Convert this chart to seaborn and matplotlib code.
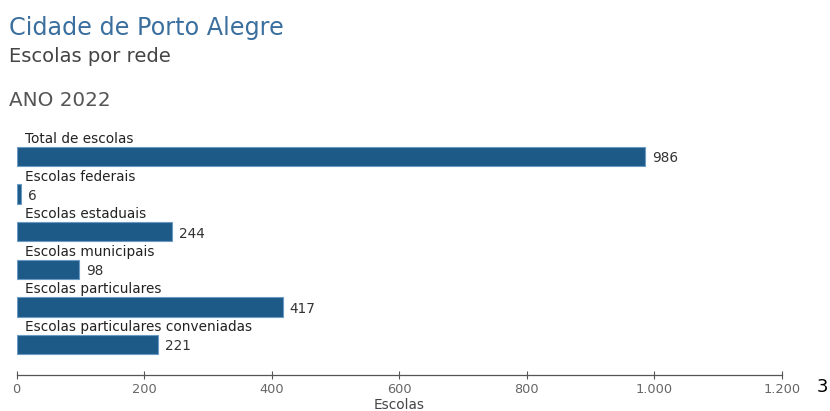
import matplotlib
matplotlib.use("Agg")
import matplotlib.pyplot as plt
import seaborn as sns
import pandas as pd
from matplotlib.ticker import FuncFormatter

categories = ["Total de escolas", "Escolas federais", "Escolas estaduais",
              "Escolas municipais", "Escolas particulares",
              "Escolas particulares conveniadas"]
values = [986, 6, 244, 98, 417, 221]
x_ticks = [0, 200, 400, 600, 800, 1000, 1200]

df = pd.DataFrame({"cat": categories, "val": values})

sns.set_theme(style="white")
plt.rcParams['font.family'] = ['DejaVu Sans']

W, H = 830, 411
fig = plt.figure(figsize=(W / 100, H / 100), dpi=100)
# axes: x 17..782 px, y 130..375 px
left_px, right_px = 16.7, 781.7
top_px, bot_px = 130, 375
ax = fig.add_axes([left_px / W, 1 - bot_px / H, (right_px - left_px) / W, (bot_px - top_px) / H])

bar_color = "#1d5a88"
sns.barplot(data=df, x="val", y="cat", orient="h", color=bar_color,
            width=0.52, edgecolor="#6b9bc4", linewidth=0.8, ax=ax,
            saturation=1)

# y positions: centers at 156.5 + 37.6*i px
c0, step = 156.5, 37.6
ax.set_ylim((bot_px - c0) / step, (top_px - c0) / step)
ax.set_xlim(0, 1200)

for i, (c, v) in enumerate(zip(categories, values)):
    ax.text(12.5, i - 0.465, c, fontsize=9.8, color="#222222", ha="left", va="center")
    ax.text(v + 11, i + 0.05, str(v), fontsize=9.8, color="#333333", ha="left", va="center")

ax.set_yticks([])
ax.set_ylabel("")
ax.set_xticks(x_ticks)
ax.xaxis.set_major_formatter(FuncFormatter(lambda v, p: f"{int(v):,}".replace(",", ".")))
ax.tick_params(axis="x", direction="inout", length=6, width=0.8, colors="#555555",
               labelsize=9.3, labelcolor="#666666", bottom=True, pad=3)
for s in ["top", "right", "left"]:
    ax.spines[s].set_visible(False)
ax.spines["bottom"].set_color("#555555")
ax.spines["bottom"].set_linewidth(0.9)
ax.set_xlabel("Escolas", fontsize=9.8, color="#444444", labelpad=1)

fig.text(9 / W, 1 - 28 / H, "Cidade de Porto Alegre", fontsize=17.2, color="#3b6f9e",
         ha="left", va="center")
fig.text(9 / W, 1 - 56 / H, "Escolas por rede", fontsize=14, color="#444444",
         ha="left", va="center")
fig.text(9 / W, 1 - 101 / H, "ANO 2022", fontsize=14.3, color="#555555",
         ha="left", va="center")
fig.text(822 / W, 1 - 387 / H, "3", fontsize=13, color="#000000", ha="center", va="center")

fig.savefig("out.png", dpi=100)
